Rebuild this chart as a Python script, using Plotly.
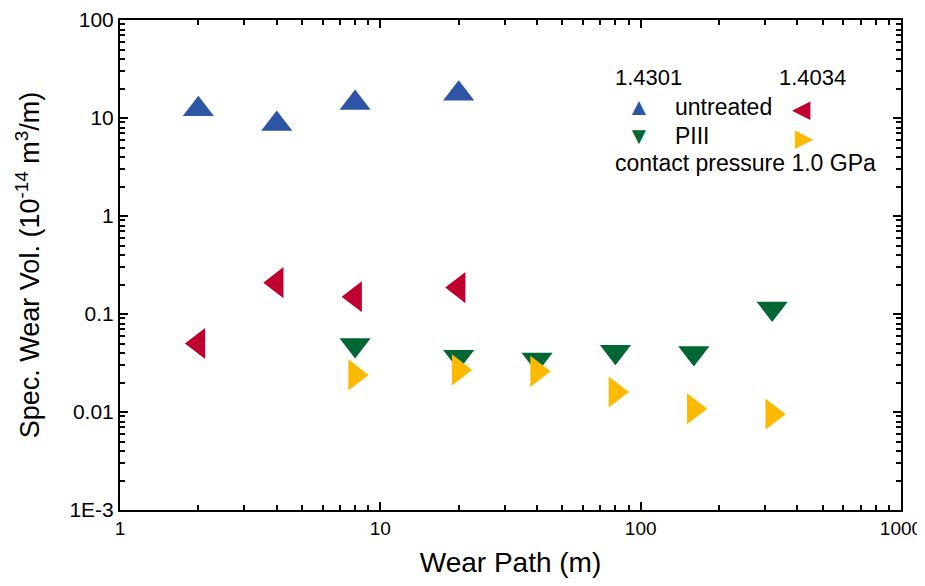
import plotly.graph_objects as go

# Data
x_1_4301_untreated = [2, 4, 8, 20]
y_1_4301_untreated = [12.3, 8.7, 14.2, 17.7]

x_1_4034_untreated = [2, 4, 8, 20]
y_1_4034_untreated = [0.050, 0.209, 0.150, 0.186]

x_1_4301_piii = [8, 20, 40, 80, 160, 320]
y_1_4301_piii = [0.0484, 0.0366, 0.0344, 0.0411, 0.0401, 0.114]

x_1_4034_piii = [8, 20, 40, 80, 160, 320]
y_1_4034_piii = [0.0239, 0.0269, 0.026, 0.016, 0.0108, 0.0095]

y_tickvals = [0.001, 0.01, 0.1, 1, 10, 100]
y_ticktext = ["1E-3", "0.01", "0.1", "1", "10", "100"]
x_tickvals = [1, 10, 100, 1000]
x_ticktext = ["1", "10", "100", "1000"]

BLUE = "#2E55A5"
RED = "#C0002F"
GREEN = "#006633"
YELLOW = "#FBBA00"
FONT = "Liberation Sans, Arial, sans-serif"
MS = 27

fig = go.Figure()
fig.add_trace(go.Scatter(x=x_1_4301_untreated, y=y_1_4301_untreated, mode="markers",
                         marker=dict(symbol="triangle-up", size=MS, color=BLUE)))
fig.add_trace(go.Scatter(x=x_1_4034_untreated, y=y_1_4034_untreated, mode="markers",
                         marker=dict(symbol="triangle-left", size=MS, color=RED)))
fig.add_trace(go.Scatter(x=x_1_4301_piii, y=y_1_4301_piii, mode="markers",
                         marker=dict(symbol="triangle-down", size=MS, color=GREEN)))
fig.add_trace(go.Scatter(x=x_1_4034_piii, y=y_1_4034_piii, mode="markers",
                         marker=dict(symbol="triangle-right", size=MS, color=YELLOW)))

axis_common = dict(showgrid=False, zeroline=False, showline=True, linecolor="black",
                   linewidth=2, mirror="allticks", ticks="inside", ticklen=8,
                   tickwidth=1.5, tickcolor="black", automargin=False,
                   ticklabeloverflow="allow",
                   minor=dict(dtick="D1", ticks="inside", ticklen=5, tickwidth=1.5,
                              tickcolor="black", showgrid=False))

fig.update_xaxes(type="log", range=[0, 3], tickvals=x_tickvals, ticktext=x_ticktext,
                 tickfont=dict(family=FONT, size=19, color="black"),
                 title=dict(text="Wear Path (m)", font=dict(family=FONT, size=28, color="black"),
                            standoff=18),
                 **axis_common)
fig.update_yaxes(type="log", range=[-3, 2], tickvals=y_tickvals, ticktext=y_ticktext,
                 tickfont=dict(family=FONT, size=21, color="black"),
                 title=dict(text="Spec. Wear Vol. (10<sup>-14</sup> m<sup>3</sup>/m)",
                            font=dict(family=FONT, size=27, color="black"), standoff=22),
                 **axis_common)


def px(x):
    return (x - 120) / 781


def py(y):
    return (510 - y) / 490


ann = [
    dict(text="1.4301", x=px(648), y=py(78), color="black", size=22),
    dict(text="1.4034", x=px(812), y=py(78), color="black", size=22),
    dict(text="▲", x=px(639), y=py(106), color=BLUE, size=24),
    dict(text="◀", x=px(801), y=py(108), color=RED, size=24),
    dict(text="▼", x=px(639), y=py(136), color=GREEN, size=24),
    dict(text="▶", x=px(804), y=py(137), color=YELLOW, size=24),
]
annotations = []
for a in ann:
    annotations.append(dict(text=a["text"], x=a["x"], y=a["y"], xref="paper", yref="paper",
                            xanchor="center", yanchor="middle", showarrow=False,
                            font=dict(family=FONT, size=a["size"], color=a["color"])))
for text, x0, y0 in [("untreated", 673, 107), ("PIII", 673, 136),
                     ("contact pressure 1.0 GPa", 613, 163)]:
    annotations.append(dict(text=text, x=px(x0), y=py(y0), xref="paper", yref="paper",
                            xanchor="left", yanchor="middle", showarrow=False,
                            font=dict(family=FONT, size=23, color="black")))

# The page body has an 8 px margin on every side, so the figure fits inside it.
fig.update_layout(width=909, height=570, margin=dict(l=112, r=16, t=12, b=68),
                  plot_bgcolor="white", paper_bgcolor="white", showlegend=False,
                  annotations=annotations)

fig.write_html("out.html")
